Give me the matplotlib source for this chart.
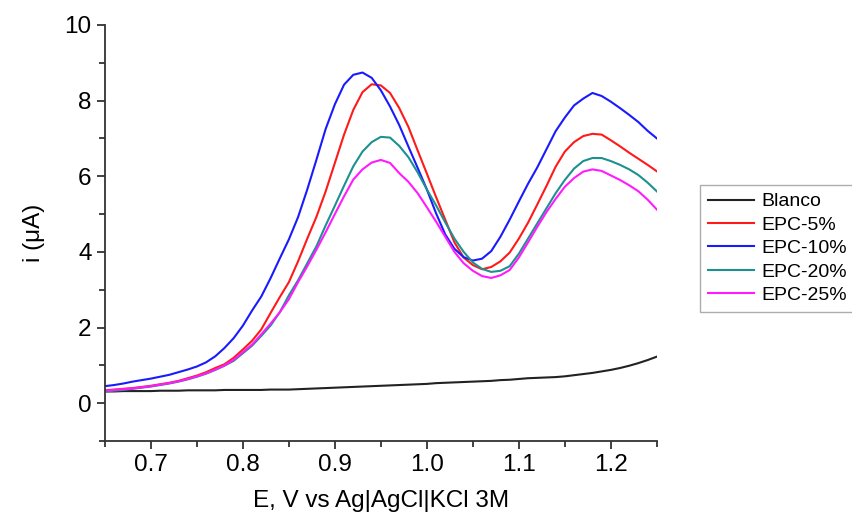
import numpy as np
import matplotlib.pyplot as plt
from matplotlib.ticker import MultipleLocator

plt.rcParams['font.family'] = ['Liberation Sans', 'DejaVu Sans']

# potential grid, 0.65 .. 1.25 V in 0.01 V steps
E = np.linspace(0.65, 1.25, 61)

blanco = [0.31, 0.31, 0.32, 0.32, 0.32, 0.32, 0.33, 0.33, 0.33, 0.34, 0.34,
          0.34, 0.34, 0.35, 0.35, 0.35, 0.35, 0.35, 0.36, 0.36, 0.36,
          0.37, 0.38, 0.39, 0.40, 0.41, 0.42, 0.43, 0.44, 0.45, 0.46,
          0.47, 0.48, 0.49, 0.50, 0.51, 0.53, 0.54, 0.55, 0.56, 0.57,
          0.58, 0.59, 0.61, 0.62, 0.64, 0.66, 0.67, 0.68, 0.69, 0.71,
          0.74, 0.77, 0.80, 0.84, 0.88, 0.93, 0.99, 1.06, 1.14, 1.23]
epc5 = [0.34, 0.36, 0.38, 0.40, 0.43, 0.46, 0.50, 0.54, 0.59, 0.66, 0.73,
        0.82, 0.93, 1.03, 1.20, 1.42, 1.65, 1.95, 2.38, 2.80, 3.20,
        3.75, 4.35, 4.93, 5.60, 6.35, 7.10, 7.75, 8.22, 8.43, 8.40,
        8.20, 7.80, 7.30, 6.68, 6.07, 5.45, 4.85, 4.25, 3.85, 3.65,
        3.54, 3.60, 3.75, 3.98, 4.35, 4.77, 5.25, 5.74, 6.25, 6.65,
        6.90, 7.06, 7.12, 7.10, 6.95, 6.79, 6.62, 6.46, 6.30, 6.13]
epc10 = [0.45, 0.48, 0.52, 0.57, 0.61, 0.65, 0.70, 0.75, 0.82, 0.89, 0.97,
         1.08, 1.24, 1.46, 1.72, 2.05, 2.45, 2.82, 3.30, 3.82, 4.33,
         4.92, 5.65, 6.44, 7.25, 7.90, 8.42, 8.68, 8.74, 8.60, 8.27,
         7.84, 7.35, 6.78, 6.22, 5.65, 5.02, 4.46, 4.08, 3.86, 3.77,
         3.82, 4.02, 4.40, 4.85, 5.33, 5.80, 6.23, 6.71, 7.19, 7.55,
         7.87, 8.05, 8.20, 8.12, 7.97, 7.80, 7.62, 7.43, 7.20, 7.00]
epc20 = [0.31, 0.33, 0.35, 0.38, 0.41, 0.44, 0.48, 0.52, 0.57, 0.63, 0.70,
         0.78, 0.88, 0.99, 1.12, 1.32, 1.52, 1.78, 2.05, 2.40, 2.85,
         3.25, 3.70, 4.15, 4.70, 5.22, 5.75, 6.26, 6.65, 6.90, 7.04,
         7.02, 6.80, 6.50, 6.10, 5.65, 5.23, 4.78, 4.35, 4.00, 3.72,
         3.55, 3.47, 3.50, 3.62, 3.95, 4.35, 4.75, 5.15, 5.55, 5.90,
         6.20, 6.40, 6.48, 6.48, 6.40, 6.30, 6.18, 6.03, 5.83, 5.60]
epc25 = [0.33, 0.35, 0.37, 0.39, 0.42, 0.45, 0.49, 0.53, 0.58, 0.64, 0.71,
         0.79, 0.89, 1.00, 1.15, 1.35, 1.55, 1.82, 2.10, 2.40, 2.75,
         3.20, 3.62, 4.06, 4.52, 5.00, 5.47, 5.91, 6.18, 6.36, 6.43,
         6.35, 6.08, 5.85, 5.55, 5.18, 4.80, 4.40, 4.00, 3.70, 3.50,
         3.36, 3.31, 3.38, 3.52, 3.85, 4.25, 4.66, 5.05, 5.40, 5.72,
         5.95, 6.12, 6.18, 6.14, 6.02, 5.90, 5.76, 5.60, 5.38, 5.12]

labels = ['Blanco', 'EPC-5%', 'EPC-10%', 'EPC-20%', 'EPC-25%']
colors = ['#222222', '#ff1a1a', '#1a1aff', '#1e9090', '#ff1aff']

fig = plt.figure(figsize=(8.53, 5.18), dpi=100)
ax = fig.add_axes([0.123, 0.1486, 0.647, 0.8034])

for y, lab, c in zip([blanco, epc5, epc10, epc20, epc25], labels, colors):
    ax.plot(E, y, color=c, lw=1.5, label=lab)

ax.set_xlim(0.65, 1.25)
ax.set_ylim(-1, 10)
ax.xaxis.set_major_locator(MultipleLocator(0.1))
ax.xaxis.set_minor_locator(MultipleLocator(0.05))
ax.yaxis.set_major_locator(MultipleLocator(2))
ax.yaxis.set_minor_locator(MultipleLocator(1))
ax.spines['top'].set_visible(False)
ax.spines['right'].set_visible(False)
for s in ['left', 'bottom']:
    ax.spines[s].set_linewidth(1.3)
    ax.spines[s].set_color('#333333')
ax.tick_params(which='major', direction='out', length=6, width=1.3,
               color='#333333', labelsize=17.5)
ax.tick_params(which='minor', direction='out', length=4, width=1.3,
               color='#333333')
ax.set_xlabel('E, V vs Ag|AgCl|KCl 3M', fontsize=17.5, labelpad=10)
ax.set_ylabel('i (μA)', fontsize=17.5, labelpad=14)

leg = fig.legend(loc='upper left', bbox_to_anchor=(700 / 853, 1 - 185 / 518),
                 fontsize=14, frameon=True, fancybox=False, edgecolor='#999999',
                 handlelength=2.4, handletextpad=0.35, labelspacing=0.3,
                 borderaxespad=0, borderpad=0.4)
leg.get_frame().set_linewidth(1.0)

fig.savefig('out.png', dpi=100)
